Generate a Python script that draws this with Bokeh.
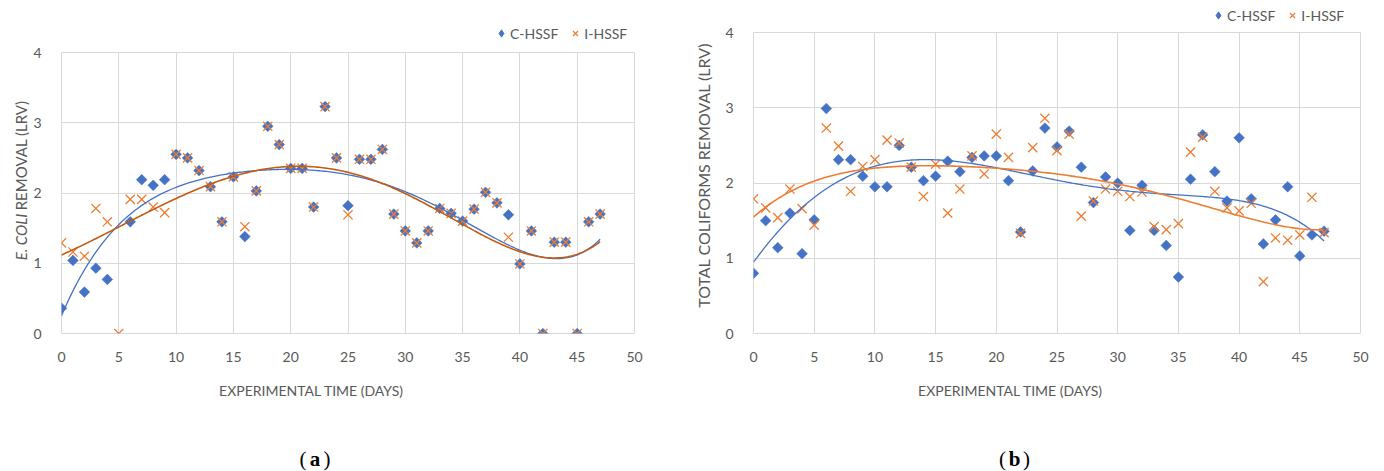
import numpy as np
from bokeh.plotting import figure
from bokeh.layouts import row, column
from bokeh.models import Label, Legend, LegendItem, FixedTicker, Range1d
from bokeh.embed import file_html
from bokeh.resources import INLINE

nan = float("nan")
days = list(range(48))

# Panel (a): E. coli removal (LRV)
a_c_hssf = [0.36, 1.04, 0.59, 0.93, 0.77, nan, 1.59, 2.19, 2.11, 2.19,
            2.55, 2.50, 2.32, 2.09, 1.59, 2.23, 1.38, 2.03, 2.95, 2.69,
            2.35, 2.35, 1.80, 3.23, 2.50, 1.82, 2.48, 2.48, 2.62, 1.70,
            1.46, 1.29, 1.46, 1.78, 1.71, 1.60, 1.77, 2.01, 1.86, 1.69,
            0.99, 1.46, 0.00, 1.30, 1.30, 0.00, 1.59, 1.70]
a_i_hssf = [1.29, 1.16, 1.10, 1.78, 1.59, 0.00, 1.91, 1.91, 1.80, 1.72,
            2.55, 2.50, 2.32, 2.09, 1.59, 2.23, 1.52, 2.03, 2.95, 2.69,
            2.35, 2.35, 1.80, 3.23, 2.50, 1.69, 2.48, 2.48, 2.62, 1.70,
            1.46, 1.29, 1.46, 1.78, 1.71, 1.60, 1.77, 2.01, 1.86, 1.37,
            0.99, 1.46, 0.00, 1.30, 1.30, 0.00, 1.59, 1.70]

# Panel (b): total coliforms removal (LRV)
b_c_hssf = [0.80, 1.50, 1.14, 1.60, 1.06, 1.51, 2.99, 2.31, 2.31, 2.09,
            1.95, 1.95, 2.50, 2.21, 2.03, 2.09, 2.29, 2.15, 2.34, 2.36,
            2.36, 2.03, 1.35, 2.16, 2.73, 2.48, 2.69, 2.21, 1.74, 2.08,
            2.00, 1.37, 1.97, 1.37, 1.17, 0.75, 2.05, 2.64, 2.15, 1.76,
            2.60, 1.79, 1.19, 1.51, 1.95, 1.03, 1.31, 1.36]
b_i_hssf = [1.79, 1.67, 1.54, 1.92, 1.66, 1.44, 2.73, 2.49, 1.89, 2.22,
            2.31, 2.57, 2.53, 2.21, 1.82, 2.25, 1.60, 1.92, 2.36, 2.12,
            2.65, 2.34, 1.33, 2.47, 2.86, 2.43, 2.65, 1.56, 1.76, 1.92,
            1.89, 1.82, 1.88, 1.42, 1.38, 1.46, 2.41, 2.61, 1.89, 1.67,
            1.63, 1.73, 0.69, 1.27, 1.24, 1.31, 1.81, 1.34]

x_ticks = [0, 5, 10, 15, 20, 25, 30, 35, 40, 45, 50]
y_ticks = [0, 1, 2, 3, 4]
series_names = ["C-HSSF", "I-HSSF"]
x_title = "EXPERIMENTAL TIME (DAYS)"
trend_degree = 5

BLUE = "#4472C4"
ORANGE = "#ED7D31"
TXT = "#595959"
GRID = "#d9d9d9"
FONT = "Lato"


def trend(x, y, deg):
    x = np.asarray(x, dtype=float)
    y = np.asarray(y, dtype=float)
    m = ~np.isnan(y)
    coef = np.polyfit(x[m], y[m], deg)
    xs = np.linspace(x[m].min(), x[m].max(), 300)
    return xs, np.polyval(coef, xs)


def strip(w, h):
    s = figure(width=w, height=h, min_border=0, x_range=Range1d(0, w),
               y_range=Range1d(0, h), x_axis_type=None, y_axis_type=None,
               output_backend="svg", toolbar_location=None, title=None,
               background_fill_color="white", border_fill_color="white")
    s.outline_line_color = None
    s.grid.visible = False
    return s


def lab(p, x, y, text, size="13px", angle=0.0, align="center", style="normal",
        font=FONT, color=TXT):
    p.add_layout(Label(x=x, y=y, text=text, text_font=font,
                       text_font_size=size, text_color=color,
                       text_align=align, text_baseline="middle", angle=angle,
                       text_font_style=style))


def legend_strip(w, h, x, y, c_vals, i_vals):
    s = strip(w, h)
    # hidden proxies: only their legend swatches are drawn
    rc = s.scatter(days, c_vals, marker="diamond", size=9, fill_color=BLUE,
                   line_color=BLUE, visible=False)
    ri = s.scatter(days, i_vals, marker="x", size=9, line_color=ORANGE,
                   line_width=1.2, visible=False)
    leg = Legend(items=[LegendItem(label=series_names[0], renderers=[rc]),
                        LegendItem(label=series_names[1], renderers=[ri])],
                 orientation="horizontal", location=(x, y),
                 glyph_width=18, glyph_height=20, label_standoff=0,
                 spacing=8, padding=0, margin=0,
                 border_line_color=None, background_fill_alpha=0,
                 inactive_fill_alpha=0,
                 label_text_font=FONT, label_text_font_size="14px",
                 label_text_color=TXT, label_height=16)
    s.add_layout(leg, "center")
    return s


def panel(c_vals, i_vals, w, h, bl, br, bt, bb, orange_trend):
    p = figure(width=w, height=h, min_border_left=bl,
               min_border_right=br, min_border_top=bt, min_border_bottom=bb,
               x_range=Range1d(0, 50), y_range=Range1d(0, 4), title=None,
               output_backend="svg", toolbar_location=None,
               background_fill_color="white", border_fill_color="white")
    p.outline_line_color = GRID
    p.xaxis.ticker = FixedTicker(ticks=x_ticks)
    p.yaxis.ticker = FixedTicker(ticks=y_ticks)
    p.xgrid.ticker = FixedTicker(ticks=x_ticks)
    p.ygrid.ticker = FixedTicker(ticks=y_ticks)
    p.grid.grid_line_color = GRID
    p.grid.grid_line_width = 1
    for ax in (p.xaxis, p.yaxis):
        ax.axis_line_color = None
        ax.major_tick_line_color = None
        ax.minor_tick_line_color = None
        ax.major_label_text_color = TXT
        ax.major_label_text_font = FONT
        ax.major_label_text_font_size = "14px"
    p.xaxis.major_label_standoff = 12
    p.yaxis.major_label_standoff = 14

    p.scatter(days, c_vals, marker="square", size=7.6, angle=np.pi / 4,
              fill_color=BLUE, line_color=BLUE, line_width=0.5)
    p.scatter(days, i_vals, marker="x", size=13, line_color=ORANGE,
              line_width=1.3)
    xs, ys = trend(days, c_vals, trend_degree)
    p.line(xs, ys, line_color=BLUE, line_width=1.3)
    xs, ys = trend(days, i_vals, trend_degree)
    p.line(xs, ys, line_color=orange_trend, line_width=1.6)
    return p


def bottom_strip(title_x, x_mid, letter):
    s = strip(692, 96)
    lab(s, title_x, 81, x_title, size="14px")
    lab(s, x_mid - 8.5, 13, "(", size="21px", font="Liberation Serif",
        color="black", align="right")
    lab(s, x_mid, 13, letter, size="21px", font="Liberation Serif",
        color="black", style="bold")
    lab(s, x_mid + 8.5, 13, ")", size="21px", font="Liberation Serif",
        color="black", align="left")
    return s


# ---- panel (a)
leg_a = legend_strip(692, 42, 492, -1, a_c_hssf, a_i_hssf)
pa = panel(a_c_hssf, a_i_hssf, 662, 333, 28, 58, 10, 42, "#C55A11")
ta = strip(30, 333)
lab(ta, 20, 142, "E. COLI", size="15px", angle=np.pi / 2,
    align="right", style="italic")
lab(ta, 20, 146, "REMOVAL (LRV)", size="15px", angle=np.pi / 2,
    align="left")
sa = bottom_strip(311, 314.5, "a")

# ---- panel (b)
leg_b = legend_strip(692, 24, 517, -1, b_c_hssf, b_i_hssf)
pb = panel(b_c_hssf, b_i_hssf, 662, 351, 28, 24, 8, 42, ORANGE)
tb = strip(30, 351)
lab(tb, 11, 30, "TOTAL COLIFORMS REMOVAL (LRV)", size="16px",
    angle=np.pi / 2, align="left")
sb = bottom_strip(318, 322, "b")

layout = row(column(leg_a, row(ta, pa), sa), column(leg_b, row(tb, pb), sb))
open("out.html", "w").write(file_html(layout, INLINE))
